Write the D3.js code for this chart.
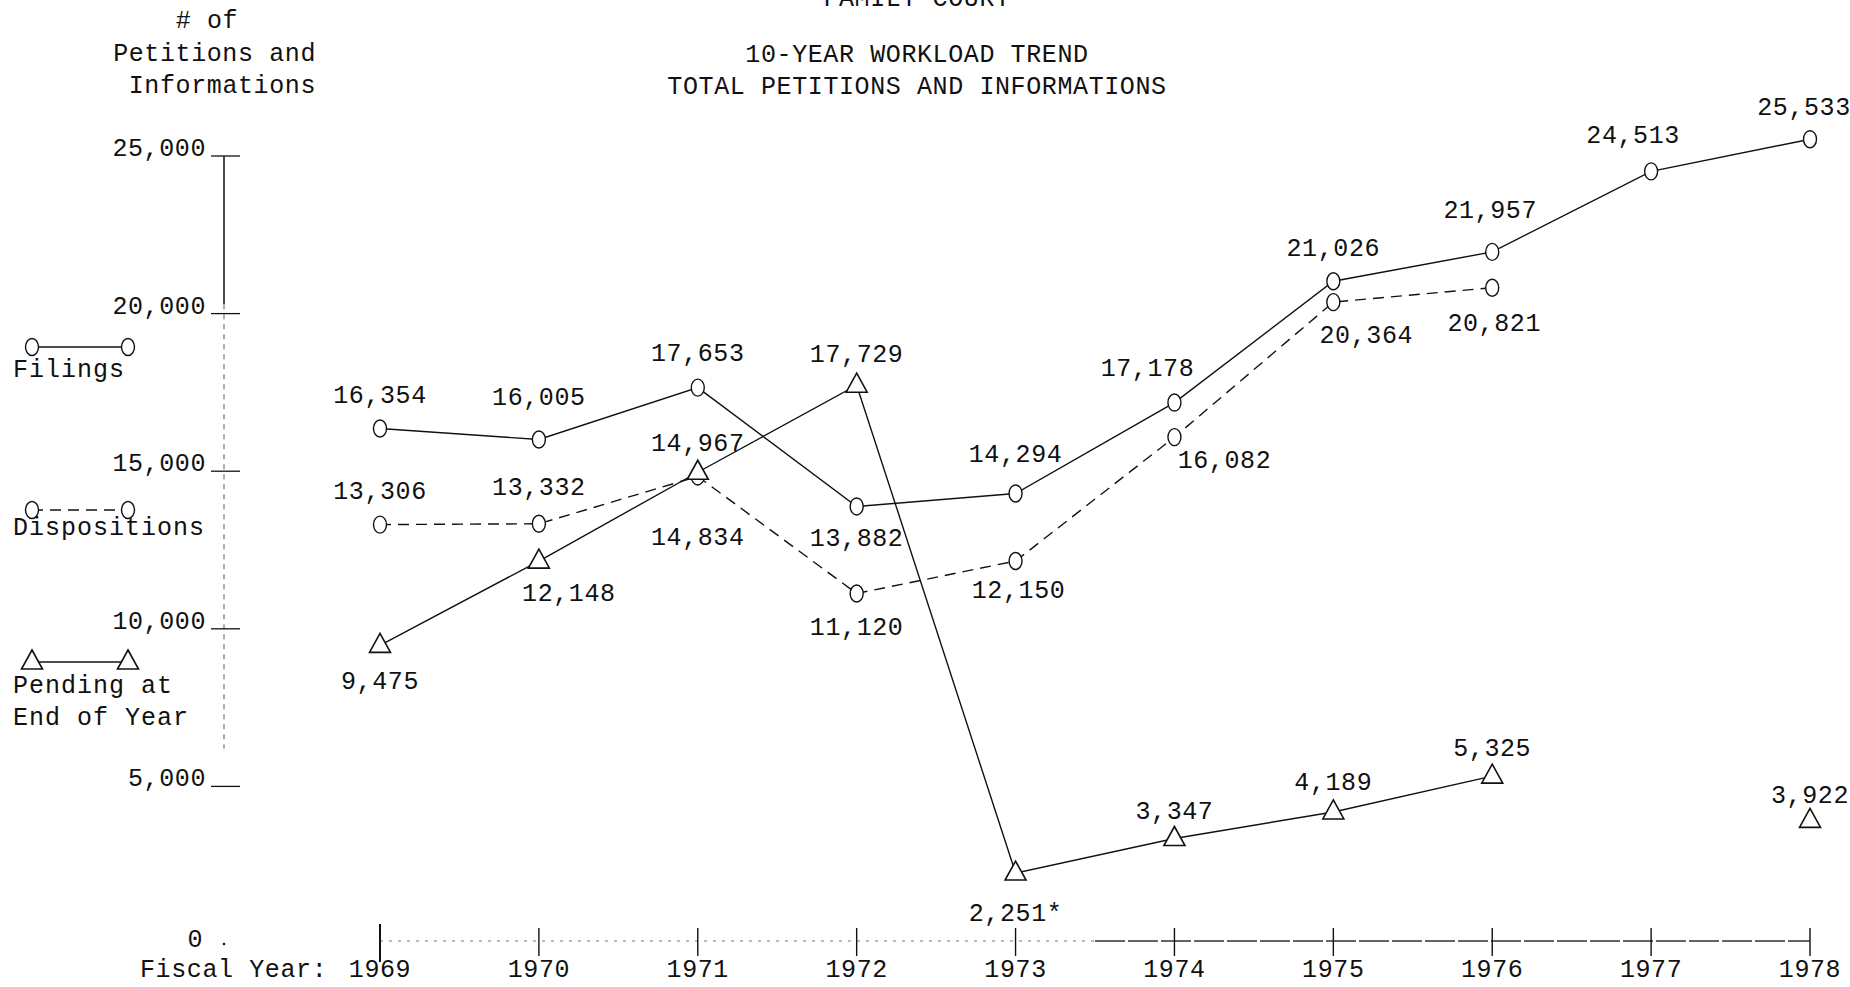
<!DOCTYPE html>
<html>
<head>
<meta charset="utf-8">
<script src="https://cdn.jsdelivr.net/npm/d3@7"></script>
<style>
  html, body { margin: 0; padding: 0; background: #fff; }
  svg { display: block; }
  text { font-family: "Liberation Mono", "DejaVu Sans Mono", monospace; font-size: 25px; fill: #111; letter-spacing: 0.6px; }
</style>
</head>
<body>
<svg id="chart" width="1850" height="987"></svg>
<script>
// ---------- data ----------
const years = [1969, 1970, 1971, 1972, 1973, 1974, 1975, 1976, 1977, 1978];
const filings = [16354, 16005, 17653, 13882, 14294, 17178, 21026, 21957, 24513, 25533];
const dispositions = [13306, 13332, 14834, 11120, 12150, 16082, 20364, 20821, null, null];
const pending = [9475, 12148, 14967, 17729, 2251, 3347, 4189, 5325, null, 3922];
const pendingNotes = ["", "", "", "", "*", "", "", "", "", ""];
const yTicks = [0, 5000, 10000, 15000, 20000, 25000];
const topTitle = "FAMILY COURT";
const titleLines = ["10-YEAR WORKLOAD TREND", "TOTAL PETITIONS AND INFORMATIONS"];
const yTitleLines = ["# of", "Petitions and", "Informations"];
const xTitle = "Fiscal Year:";
const legendNames = ["Filings", "Dispositions", "Pending at|End of Year"];

// ---------- layout (label offsets in px) ----------
const filingsLabelOff = [[0,-32],[0,-41],[0,-33],[0,33],[0,-38],[-27,-33],[0,-32],[-2,-40],[-18,-35],[-6,-31]];
const dispLabelOff = [[0,-32],[0,-35],[0,62],[0,35],[3,30],[50,24],[33,34],[2,37],null,null];
const pendLabelOff = [[0,37],[30,33],[0,-28],[0,-30],[0,41],[0,-26],[0,-28],[0,-27],null,[0,-24]];

const svg = d3.select("#chart");
const x = d3.scaleLinear().domain([1969, 1978]).range([380, 1810]);
const y = d3.scaleLinear().domain([0, 25000]).range([944, 156]);
const fmt = d3.format(",");
const ink = "#111";

// ---------- titles ----------
svg.append("text").attr("x", 917).attr("y", 6).attr("text-anchor", "middle").text(topTitle);
svg.selectAll("text.title").data(titleLines).join("text").attr("class", "title")
  .attr("x", 917).attr("y", (d, i) => 62 + i * 32).attr("text-anchor", "middle").text(d => d);

svg.append("text").attr("x", 207).attr("y", 28).attr("text-anchor", "middle").text(yTitleLines[0]);
svg.append("text").attr("x", 316).attr("y", 61).attr("text-anchor", "end").text(yTitleLines[1]);
svg.append("text").attr("x", 316).attr("y", 93).attr("text-anchor", "end").text(yTitleLines[2]);

// ---------- y axis ----------
const axX = 224;
svg.append("line").attr("x1", axX).attr("x2", axX).attr("y1", y(25000)).attr("y2", y(20300))
  .attr("stroke", ink).attr("stroke-width", 1.5);
svg.append("line").attr("x1", axX).attr("x2", axX).attr("y1", y(20300)).attr("y2", y(6200))
  .attr("stroke", "#666").attr("stroke-width", 1.1).attr("stroke-dasharray", "5,5");
svg.selectAll("line.ytick").data(yTicks.filter(d => d > 0)).join("line").attr("class", "ytick")
  .attr("x1", 211).attr("x2", 240).attr("y1", d => y(d)).attr("y2", d => y(d))
  .attr("stroke", ink).attr("stroke-width", 1.3);
svg.selectAll("text.ylab").data(yTicks).join("text").attr("class", "ylab")
  .attr("x", d => d === 0 ? 203 : 206).attr("y", d => y(d) + (d === 0 ? 3 : 0))
  .attr("text-anchor", "end").text(d => fmt(d));
svg.append("circle").attr("cx", axX).attr("cy", y(0)).attr("r", 1.3).attr("fill", ink);

// ---------- x axis ----------
svg.append("line").attr("x1", x(1969)).attr("x2", x(1973.5)).attr("y1", y(0) - 3).attr("y2", y(0) - 3)
  .attr("stroke", "#777").attr("stroke-width", 1).attr("stroke-dasharray", "3,6");
svg.append("line").attr("x1", x(1973.5)).attr("x2", x(1978)).attr("y1", y(0) - 3).attr("y2", y(0) - 3)
  .attr("stroke", "#333").attr("stroke-width", 1.4).attr("stroke-dasharray", "30,3");
svg.selectAll("line.xtick").data(years).join("line").attr("class", "xtick")
  .attr("x1", d => x(d)).attr("x2", d => x(d))
  .attr("y1", d => d === 1969 ? 924 : 928).attr("y2", d => d === 1969 ? 962 : 956)
  .attr("stroke", ink).attr("stroke-width", d => d === 1969 ? 2 : 1.4);
svg.selectAll("text.xlab").data(years).join("text").attr("class", "xlab")
  .attr("x", d => x(d)).attr("y", 977).attr("text-anchor", "middle").text(d => d);
svg.append("text").attr("x", 140).attr("y", 977).text(xTitle);

// ---------- series ----------
const mk = arr => years.map((yr, i) => ({ yr, v: arr[i], i }));
const line = d3.line().defined(d => d.v != null).x(d => x(d.yr)).y(d => y(d.v));

const series = [
  { data: mk(filings), dash: null, marker: "circle", off: filingsLabelOff, note: null },
  { data: mk(dispositions), dash: "11,7", marker: "circle", off: dispLabelOff, note: null },
  { data: mk(pending), dash: null, marker: "triangle", off: pendLabelOff, note: pendingNotes }
];

const triPath = "M0,-12L10.5,7L-10.5,7Z";

series.forEach(s => {
  svg.append("path").datum(s.data).attr("d", line)
    .attr("fill", "none").attr("stroke", ink).attr("stroke-width", 1.4)
    .attr("stroke-dasharray", s.dash);
});

series.forEach(s => {
  const pts = s.data.filter(d => d.v != null);
  if (s.marker === "circle") {
    svg.selectAll(null).data(pts).join("ellipse")
      .attr("cx", d => x(d.yr)).attr("cy", d => y(d.v)).attr("rx", 6.5).attr("ry", 8.5)
      .attr("fill", "#fff").attr("stroke", ink).attr("stroke-width", 1.4);
  } else {
    svg.selectAll(null).data(pts).join("path")
      .attr("transform", d => `translate(${x(d.yr)},${y(d.v)})`).attr("d", triPath)
      .attr("fill", "#fff").attr("stroke", ink).attr("stroke-width", 1.6);
  }
  svg.selectAll(null).data(pts).join("text")
    .attr("x", d => x(d.yr) + s.off[d.i][0]).attr("y", d => y(d.v) + s.off[d.i][1])
    .attr("text-anchor", "middle").attr("dominant-baseline", "central")
    .text(d => fmt(d.v) + (s.note ? s.note[d.i] : ""));
});

// ---------- legend ----------
const legY = [347, 510, 662];
const legTextY = [[377], [535], [693, 725]];
legendNames.forEach((name, k) => {
  const s = series[k];
  svg.append("line").attr("x1", 32).attr("x2", 128).attr("y1", legY[k]).attr("y2", legY[k])
    .attr("stroke", ink).attr("stroke-width", 1.4).attr("stroke-dasharray", s.dash);
  [32, 128].forEach(cx => {
    if (s.marker === "circle") {
      svg.append("ellipse").attr("cx", cx).attr("cy", legY[k]).attr("rx", 6.5).attr("ry", 8.5)
        .attr("fill", "#fff").attr("stroke", ink).attr("stroke-width", 1.4);
    } else {
      svg.append("path").attr("transform", `translate(${cx},${legY[k]})`).attr("d", triPath)
        .attr("fill", "#fff").attr("stroke", ink).attr("stroke-width", 1.6);
    }
  });
  name.split("|").forEach((t, j) => {
    svg.append("text").attr("x", 13).attr("y", legTextY[k][j]).style("letter-spacing", "1px").text(t);
  });
});
</script>
</body>
</html>
